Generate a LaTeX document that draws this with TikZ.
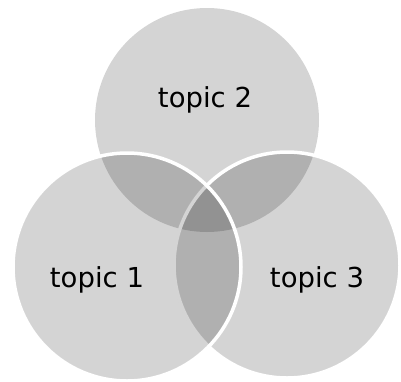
\documentclass[tikz,border=0pt]{standalone}
\usepackage{fontspec}
\newfontfamily\labfont{DejaVu Sans}
\begin{document}
\begin{tikzpicture}[x=1pt,y=-1pt,
  venn/.style={circle, inner sep=0pt, fill=black, fill opacity=0.17, draw=white, line width=3.5pt},
  lab/.style={anchor=base, inner sep=0pt, font=\labfont\fontsize{27.5}{30}\selectfont, text=black}]
\useasboundingbox (0,0) rectangle (401,381);
\node[venn, draw=none, minimum size=224pt] (c2) at (207,120) {};
\node[venn, minimum size=226pt] (c3) at (287,265) {};
\node[venn, minimum size=228pt] (c1) at (127,267) {};
\node[lab] (t2) at (205,107) {topic 2};
\node[lab] (t1) at (97,287) {topic 1};
\node[lab] (t3) at (317,287) {topic 3};
\end{tikzpicture}
\end{document}
